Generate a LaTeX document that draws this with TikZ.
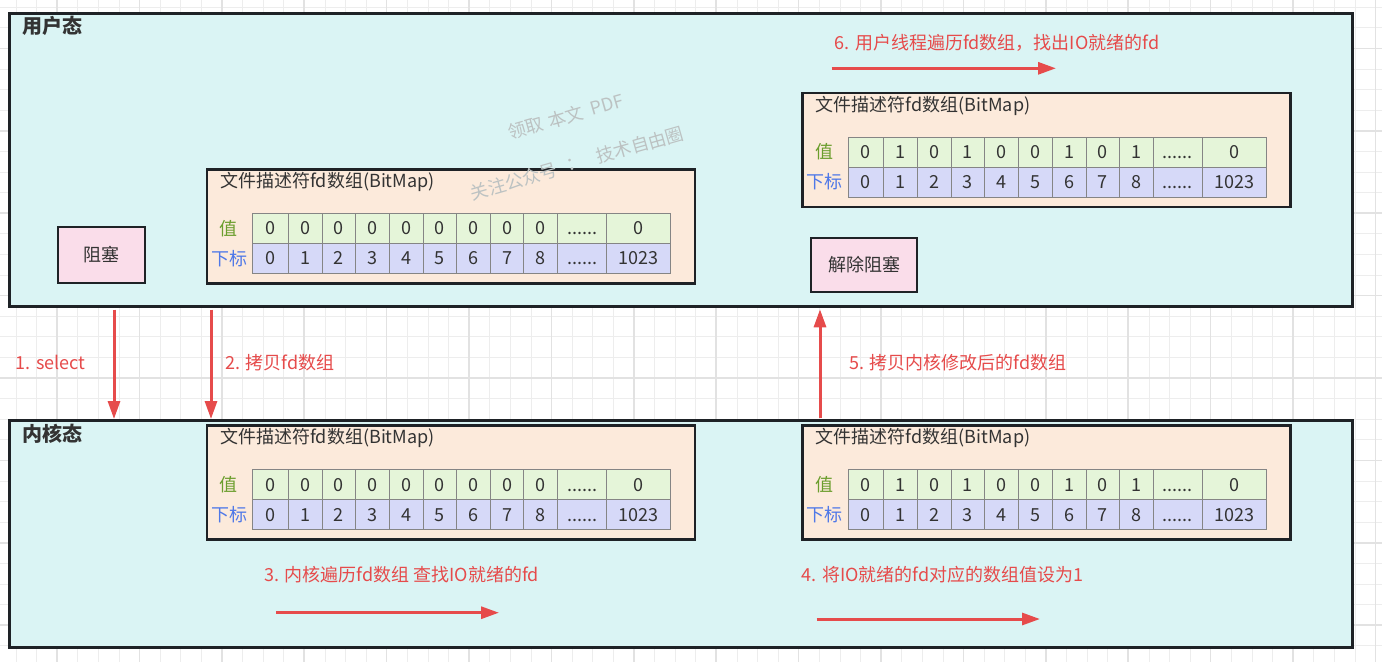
\documentclass[tikz,border=0pt]{standalone}
\usepackage{fontspec}
\setmainfont{Noto Sans CJK SC}
\usetikzlibrary{arrows.meta,calc}
\definecolor{edge}{HTML}{1E2226}
\definecolor{panelfill}{HTML}{DAF4F4}
\definecolor{boxfill}{HTML}{FCEADB}
\definecolor{pinkfill}{HTML}{FADDEA}
\definecolor{vfill}{HTML}{E5F5D9}
\definecolor{kfill}{HTML}{D6D9F8}
\definecolor{cellline}{HTML}{858585}
\definecolor{redc}{HTML}{E64B4B}
\definecolor{zhi}{HTML}{6B9E2D}
\definecolor{xb}{HTML}{4F78E8}
\definecolor{ink}{HTML}{333333}
\definecolor{wmc}{HTML}{BCC2C2}
\definecolor{gridminor}{HTML}{EDEDED}
\definecolor{gridmajor}{HTML}{E2E2E2}
\newcommand{\dotsix}{.\kern0pt.\kern0pt.\kern0pt.\kern0pt.\kern0pt.}
\tikzset{
  sz/.style 2 args={minimum width=#1*0.75pt, minimum height=#2*0.75pt},
  txt/.style={font=\fontsize{13.5}{16}\selectfont, inner sep=0pt, text=ink},
  lbl/.style={txt, text=redc, anchor=west},
  panel/.style={draw=edge, line width=2pt, fill=panelfill, anchor=north west, inner sep=0pt},
  container/.style={draw=edge, line width=1.9pt, fill=boxfill, anchor=north west, inner sep=0pt},
  pinkbox/.style={draw=edge, line width=1.9pt, fill=pinkfill, txt},
  cell/.style={draw=cellline, line width=0.75pt, minimum height=22.5pt, inner sep=0pt,
    text height=9.7pt, text depth=0pt,
    font=\fontsize{13.5}{16}\selectfont, text=ink},
  redarrow/.style={draw=redc, line width=2.25pt, -{Triangle[length=13.5pt,width=9pt]}},
  wm/.style={font=\fontsize{13.5}{16}\selectfont, text=wmc, inner sep=0pt, rotate=16},
  minorline/.style={draw=gridminor, line width=0.75pt},
  majorline/.style={draw=gridmajor, line width=1.1pt},
}
\newcommand{\fdarray}[4]{%
  \node[container, sz={488}{114}] (#1) at (#2,#3) {};
  \node[txt, anchor=west] (#1-t) at (#2+14.5,#3+14) {文件描述符fd数组(BitMap)};
  \node[txt, text=zhi] (#1-lv) at (#2+23,#3+60.5) {值};
  \node[txt, text=xb] (#1-lk) at (#2+23.5,#3+90.5) {下标};
  \foreach \v/\k [count=\i from 0] in {#4} {
    \pgfmathsetmacro\cxa{{47,82.7,116.7,150.1,183.7,217.5,251.1,285,318.3,352.1,401}[\i]}
    \pgfmathsetmacro\cxb{{82.7,116.7,150.1,183.7,217.5,251.1,285,318.3,352.1,401,465.3}[\i]}
    \pgfmathsetmacro\cwid{(\cxb-\cxa)*0.75}
    \pgfmathsetmacro\cxc{#2+(\cxa+\cxb)/2}
    \node[cell, fill=vfill, minimum width=\cwid pt] (#1-v\i) at (\cxc,#3+60.5) {\v};
    \node[cell, fill=kfill, minimum width=\cwid pt] (#1-k\i) at (\cxc,#3+90.5) {\k};
  }
}
\begin{document}
\begin{tikzpicture}[x=0.75pt,y=-0.75pt]
\useasboundingbox (0,0) rectangle (1382,662);
\fill[white] (0,0) rectangle (1382,662);
% background grid
\foreach \k in {0,...,66} { \draw[minorline] ({16+20.6*\k},0) -- ({16+20.6*\k},662); }
\foreach \k in {0,...,31} { \draw[minorline] (0,{7.2+20.6*\k}) -- (1382,{7.2+20.6*\k}); }
\foreach \k in {0,...,16} { \draw[majorline] ({57+82.4*\k},0) -- ({57+82.4*\k},662); }
\foreach \k in {0,...,7} { \draw[majorline] (0,{48.4+82.4*\k}) -- (1382,{48.4+82.4*\k}); }

% panels
\node[panel, sz={1343}{293}] (user) at (8,12) {};
\node[panel, sz={1343}{227}] (kernel) at (8,419) {};
\node[txt, anchor=west, font=\fontsize{15}{18}\selectfont\bfseries] (usert) at (22,26) {用户态};
\node[txt, anchor=west, font=\fontsize{15}{18}\selectfont\bfseries] (kernt) at (22,434) {内核态};

% blocking boxes
\node[pinkbox, sz={87}{56}] (blk) at (101.5,255) {阻塞};
\node[pinkbox, sz={106}{54}] (unblk) at (864,265) {解除阻塞};

% fd arrays
\fdarray{c1}{205.5}{168}{0/0,0/1,0/2,0/3,0/4,0/5,0/6,0/7,0/8,\dotsix/\dotsix,0/1023}
\fdarray{c2}{801}{91.5}{0/0,1/1,0/2,1/3,0/4,0/5,1/6,0/7,1/8,\dotsix/\dotsix,0/1023}
\fdarray{c3}{205.5}{424.3}{0/0,0/1,0/2,0/3,0/4,0/5,0/6,0/7,0/8,\dotsix/\dotsix,0/1023}
\fdarray{c4}{801}{424.3}{0/0,1/1,0/2,1/3,0/4,0/5,1/6,0/7,1/8,\dotsix/\dotsix,0/1023}

% vertical arrows
\coordinate (a1x) at (114,0);
\coordinate (a2x) at (211,0);
\coordinate (a5x) at (820,0);
\draw[redarrow, shorten <=1.5pt] (user.south -| a1x) -- (kernel.north -| a1x);
\draw[redarrow, shorten <=1.5pt] (user.south -| a2x) -- (kernel.north -| a2x);
\draw[redarrow, shorten <=1pt, shorten >=1.2pt] (kernel.north -| a5x) -- (user.south -| a5x);
\node[lbl] (l1) at (15.6,362.7) {1. select};
\node[lbl] (l2) at (225,362.7) {2. 拷贝fd数组};
\node[lbl] (l5) at (849,362.7) {5. 拷贝内核修改后的fd数组};

% horizontal arrows
\coordinate (a6s) at (831.5,68.3);
\coordinate (a6e) at (1056,68.3);
\coordinate (a3s) at (276,612.7);
\coordinate (a3e) at (499,612.7);
\coordinate (a4s) at (816.7,619);
\coordinate (a4e) at (1040,619);
\draw[redarrow] (a6s) -- (a6e);
\draw[redarrow] (a3s) -- (a3e);
\draw[redarrow] (a4s) -- (a4e);
\node[lbl] (l6) at (834.5,43.3) {6. 用户线程遍历fd数组，找出IO就绪的fd};
\node[lbl] (l3) at (264,575) {3. 内核遍历fd数组 查找IO就绪的fd};
\node[lbl] (l4) at (801.6,575) {4. 将IO就绪的fd对应的数组值设为1};

% watermark
\node[wm] (wm1a) at (525.6,128.3) {领取};
\node[wm] (wm1b) at (566,116.7) {本文};
\node[wm] (wm1c) at (607.3,104.8) {PDF};
\node[wm] (wm2a) at (514.1,181.1) {关注公众号};
\node[wm] (wm2b) at (575.6,163.4) {：};
\node[wm] (wm2c) at (639.9,144.9) {技术自由圈};
\end{tikzpicture}
\end{document}
